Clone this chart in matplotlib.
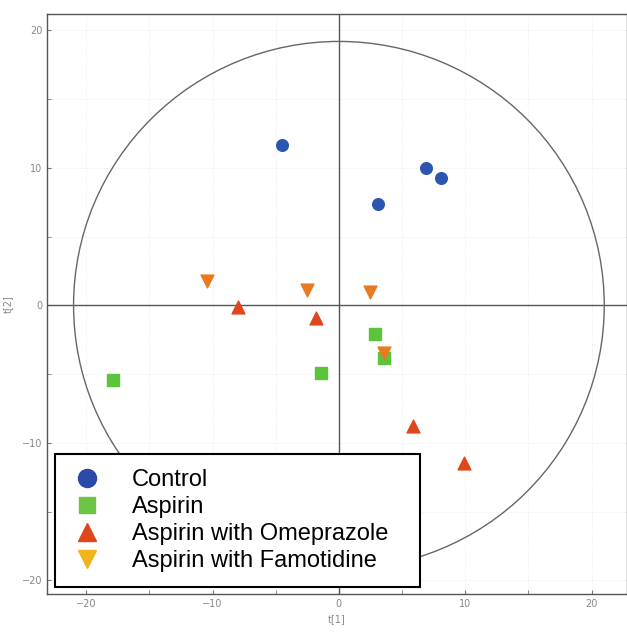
import matplotlib.pyplot as plt
from matplotlib.patches import Ellipse
from matplotlib.lines import Line2D

# PCA score values (t[1], t[2])
control_t1 = [-4.5, 6.9, 8.1, 3.1]
control_t2 = [11.7, 10.0, 9.3, 7.35]

aspirin_t1 = [-17.9, -1.4, 2.85, 3.6]
aspirin_t2 = [-5.4, -4.95, -2.1, -3.8]

omep_t1 = [-8.0, -1.8, 5.9, 9.9]
omep_t2 = [-0.1, -0.9, -8.8, -11.5]

famo_t1 = [-10.4, -2.5, 2.5, 3.6]
famo_t2 = [1.75, 1.15, 1.0, -3.5]

group_names = ["Control", "Aspirin", "Aspirin with Omeprazole",
               "Aspirin with Famotidine"]

# Hotelling T2 ellipse half-axes
ell_a = 21.0
ell_b = 19.2

fig = plt.figure(figsize=(6.27, 6.34), dpi=100)
ax = fig.add_axes([0.075, 0.063, 0.925, 0.915])

ax.set_xlim(-23.1, 22.8)
ax.set_ylim(-21.0, 21.2)

ax.axhline(0, color="#555555", lw=1.0, zorder=2)
ax.axvline(0, color="#555555", lw=1.0, zorder=2)
ax.add_patch(Ellipse((0, 0), 2 * ell_a, 2 * ell_b, fill=False,
                     edgecolor="#666666", lw=1.0, zorder=2))

ax.scatter(control_t1, control_t2, marker="o", s=70, color="#2a55b0", zorder=3)
ax.scatter(aspirin_t1, aspirin_t2, marker="s", s=65, color="#5cc43a", zorder=3)
ax.scatter(omep_t1, omep_t2, marker="^", s=85, color="#e0461c", zorder=3)
ax.scatter(famo_t1, famo_t2, marker="v", s=85, color="#e87a22", zorder=4)

ax.set_xticks([-20, -10, 0, 10, 20])
ax.set_yticks([-20, -10, 0, 10, 20])
ax.set_xticks([-15, -5, 5, 15], minor=True)
ax.set_yticks([-15, -5, 5, 15], minor=True)
ax.grid(True, which="both", color="#e8e8e8", lw=0.6, ls=":", zorder=0)
ax.tick_params(which="both", direction="in", length=3, colors="#777777",
               labelsize=7, labelcolor="#888888")
for sp in ax.spines.values():
    sp.set_color("#555555")
    sp.set_linewidth(1.0)

ax.set_xlabel("t[1]", fontsize=7, color="#888888", labelpad=4)
ax.set_ylabel("t[2]", fontsize=7, color="#888888", labelpad=6)

handles = [
    Line2D([], [], marker="o", ls="", ms=13, color="#2a4aa8"),
    Line2D([], [], marker="s", ms=12, ls="", color="#6cc444"),
    Line2D([], [], marker="^", ms=13, ls="", color="#e0461c"),
    Line2D([], [], marker="v", ms=13, ls="", color="#f0b41c"),
]
leg = fig.legend(handles, group_names, loc="lower left",
                 bbox_to_anchor=(0.0877, 0.074, 0.582, 0.213), mode="expand",
                 prop={"family": "Liberation Sans", "size": 17},
                 frameon=True, fancybox=False, edgecolor="black",
                 framealpha=1, handletextpad=1.2, handlelength=1.45,
                 labelspacing=0.22, borderpad=0.62, borderaxespad=0)
leg.get_frame().set_linewidth(1.5)

fig.savefig("out.png", dpi=100)
